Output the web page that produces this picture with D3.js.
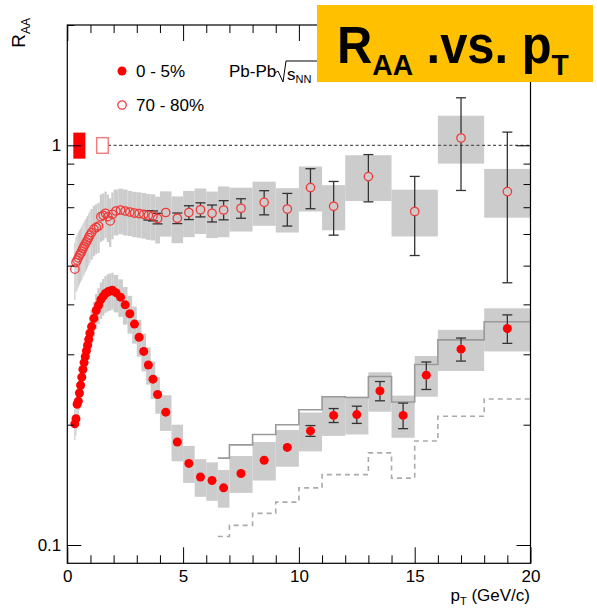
<!DOCTYPE html>
<html>
<head>
<meta charset="utf-8">
<script src="https://cdn.jsdelivr.net/npm/d3@7"></script>
<style>
body { margin: 0; background: #fff; }
svg { display: block; font-family: "Liberation Sans", Arial, Helvetica, sans-serif; }
</style>
</head>
<body>
<svg width="597" height="612"></svg>
<script>
// pT bin edges (GeV/c)
var edges05 = [0.3,0.35,0.4,0.45,0.5,0.55,0.6,0.65,0.7,0.75,0.8,0.85,0.9,0.95,1.0,
  1.1,1.2,1.3,1.4,1.5,1.6,1.7,1.8,1.9,2.0,2.2,2.4,2.6,2.8,3.0,3.2,3.4,3.6,3.8,4.0,
  4.5,5.0,5.5,6.0,6.5,7,8,9,10,11,12,13,14,15,16,18,20];
var edges7080 = [0.3,0.35,0.4,0.45,0.5,0.55,0.6,0.65,0.7,0.75,0.8,0.85,0.9,0.95,1.0,
  1.1,1.2,1.3,1.4,1.5,1.6,1.7,1.8,1.9,2.0,2.2,2.4,2.6,2.8,3.0,3.2,3.4,3.6,3.8,4.0,
  4.5,5.0,5.5,6.0,6.5,7,8,9,10,11,12,14,16,18,20];

// 0-5% : R_AA, stat error, syst error
var raa05 = [0.201,0.207,0.225,0.229,0.240,0.251,0.263,0.275,0.286,0.296,0.306,0.316,0.327,0.339,
  0.352,0.369,0.386,0.398,0.411,0.419,0.426,0.430,0.432,0.434,
  0.428,0.417,0.399,0.379,0.357,0.331,0.305,0.282,0.260,0.238,
  0.215,0.181,0.160,0.148,0.145,0.139,
  0.151,0.163,0.1755,0.193,0.211,
  0.212,0.243,0.211,0.266,
  0.309,0.348];
var stat05 = [0.001,0.001,0.001,0.001,0.001,0.001,0.001,0.001,0.001,0.001,0.001,0.001,0.001,0.001,
  0.001,0.001,0.001,0.001,0.001,0.001,0.001,0.001,0.001,0.001,
  0.001,0.001,0.001,0.001,0.001,0.001,0.001,0.001,0.001,0.001,
  0.001,0.001,0.001,0.001,0.001,0.0015,
  0.0015,0.002,0.0028,0.006,0.0085,
  0.0105,0.0135,0.0155,0.021,
  0.0205,0.0285];
var sys05 = [0.018,0.019,0.02,0.021,0.022,0.023,0.025,0.026,0.027,0.028,0.029,0.03,0.031,0.033,
  0.035,0.037,0.039,0.041,0.043,0.044,0.045,0.046,0.046,0.046,
  0.046,0.045,0.043,0.041,0.038,0.035,0.033,0.03,0.028,0.025,
  0.022,0.019,0.017,0.016,0.016,0.015,
  0.016,0.018,0.0185,0.0215,0.0235,
  0.023,0.0275,0.0255,0.031,
  0.0365,0.043];

// 70-80%
var raa7080 = [0.490,0.509,0.516,0.523,0.531,0.537,0.544,0.552,0.559,0.566,0.573,0.580,0.588,0.596,
  0.605,0.617,0.623,0.628,0.663,0.668,0.676,0.663,0.647,0.672,
  0.685,0.689,0.685,0.681,0.677,0.675,0.672,0.668,0.666,0.656,
  0.679,0.657,0.679,0.690,0.676,0.689,
  0.696,0.720,0.693,0.784,0.704,
  0.835,0.683,
  1.043,0.766];
var stat7080 = [0.004,0.004,0.004,0.004,0.004,0.004,0.004,0.004,0.004,0.004,0.004,0.004,0.004,0.004,
  0.005,0.005,0.005,0.005,0.005,0.006,0.006,0.006,0.006,0.007,
  0.008,0.009,0.01,0.011,0.012,0.014,0.016,0.018,0.019,0.02,
  0.015,0.02,0.027,0.028,0.033,0.038,
  0.039,0.05,0.065,0.09,0.108,
  0.113,0.153,
  0.272,0.313];
var sys7080 = [0.08,0.08,0.082,0.082,0.083,0.083,0.084,0.084,0.085,0.085,0.086,0.086,0.087,0.088,
  0.088,0.089,0.089,0.09,0.09,0.09,0.09,0.09,0.09,0.09,
  0.09,0.09,0.09,0.088,0.088,0.088,0.088,0.088,0.088,0.088,
  0.088,0.088,0.09,0.09,0.09,0.1,
  0.0875,0.091,0.088,0.101,0.091,
  0.1095,0.0915,
  0.143,0.107];

// grey step histograms over/under the 0-5% points
var stepEdges = [6.5,7,8,9,10,11,12,13,14,15,16,18,20];
var stepSolid = [0.165,0.178,0.189,0.200,0.218,0.235,0.234,0.264,0.228,0.283,0.326,0.362];
var stepDashed = [0.105,0.112,0.120,0.128,0.139,0.150,0.150,0.170,0.147,0.182,0.210,0.232];

var xMajor = [0, 5, 10, 15, 20];
var xMinor = [1,2,3,4,6,7,8,9,11,12,13,14,16,17,18,19];
var yMajor = [0.1, 1];
var yMinor = [0.2,0.3,0.4,0.5,0.6,0.7,0.8,0.9,2];

var svg = d3.select('svg');
var x = d3.scaleLinear().domain([0, 20]).range([67.3, 530.5]);
var y = d3.scaleLog().domain([0.09, 2]).range([563.3, 25]);

function makePoints(edges, vals, stat, sys) {
  return vals.map(function(v, i) {
    return { lo: edges[i], hi: edges[i + 1], pt: (edges[i] + edges[i + 1]) / 2, v: v, st: stat[i], sy: sys[i] };
  });
}
var pts05 = makePoints(edges05, raa05, stat05, sys05);
var pts7080 = makePoints(edges7080, raa7080, stat7080, sys7080);

// syst boxes
var boxes = svg.append('g');
[pts7080, pts05].forEach(function(pts) {
  boxes.selectAll(null)
    .data(pts)
    .enter()
    .append('rect')
    .attr('x', function(d) { return x(d.lo); })
    .attr('width', function(d) { return x(d.hi) - x(d.lo); })
    .attr('y', function(d) { return y(d.v + d.sy); })
    .attr('height', function(d) { return y(d.v - d.sy) - y(d.v + d.sy); })
    .style('fill', '#cccccc');
});

// step lines
function stepPoints(vals) {
  var p = vals.map(function(v, i) { return [stepEdges[i], v]; });
  p.push([stepEdges[stepEdges.length - 1], vals[vals.length - 1]]);
  return p;
}
var stepLine = d3.line()
  .x(function(d) { return x(d[0]); })
  .y(function(d) { return y(d[1]); })
  .curve(d3.curveStepAfter);

svg.append('path')
  .attr('d', stepLine(stepPoints(stepSolid)))
  .style('fill', 'none')
  .style('stroke', '#9a9a9a')
  .style('stroke-width', 1.6);
svg.append('path')
  .attr('d', stepLine(stepPoints(stepDashed)))
  .style('fill', 'none')
  .style('stroke', '#aaaaaa')
  .style('stroke-width', 1.6)
  .style('stroke-dasharray', '5,4');

// unity line
svg.append('line')
  .attr('x1', x(1.76)).attr('x2', x(20))
  .attr('y1', y(1)).attr('y2', y(1))
  .style('stroke', '#555')
  .style('stroke-width', 1.2)
  .style('stroke-dasharray', '3,2.5');

// normalisation boxes
svg.append('rect')
  .attr('x', x(0.26)).attr('width', x(0.78) - x(0.26))
  .attr('y', y(1.076)).attr('height', y(0.926) - y(1.076))
  .style('fill', '#ff0000');
svg.append('rect')
  .attr('x', x(1.27)).attr('width', x(1.77) - x(1.27))
  .attr('y', y(1.045)).attr('height', y(0.955) - y(1.045))
  .style('fill', '#fff')
  .style('stroke', '#f08080')
  .style('stroke-width', 1.5);

// stat error bars
var r = 4.5;
var bars = svg.append('g').style('stroke', '#333').style('stroke-width', 1.3);
[pts7080, pts05].forEach(function(pts) {
  pts.forEach(function(d) {
    var cy = y(d.v), top = y(d.v + d.st), bot = y(d.v - d.st), cx = x(d.pt);
    if (cy - top > r) {
      bars.append('line').attr('x1', cx).attr('x2', cx).attr('y1', top).attr('y2', cy - r);
      bars.append('line').attr('x1', cx - 5).attr('x2', cx + 5).attr('y1', top).attr('y2', top);
    }
    if (bot - cy > r) {
      bars.append('line').attr('x1', cx).attr('x2', cx).attr('y1', bot).attr('y2', cy + r);
      bars.append('line').attr('x1', cx - 5).attr('x2', cx + 5).attr('y1', bot).attr('y2', bot);
    }
  });
});

// markers
svg.append('g').selectAll('circle')
  .data(pts7080)
  .enter()
  .append('circle')
  .attr('cx', function(d) { return x(d.pt); })
  .attr('cy', function(d) { return y(d.v); })
  .attr('r', 4.2)
  .style('fill', 'none')
  .style('stroke', '#f03a3a')
  .style('stroke-width', 1.3);

svg.append('g').selectAll('circle')
  .data(pts05)
  .enter()
  .append('circle')
  .attr('cx', function(d) { return x(d.pt); })
  .attr('cy', function(d) { return y(d.v); })
  .attr('r', r)
  .style('fill', '#ff0000');

// axes (ROOT style ticks inside the frame)
function clean(g) { g.select('.domain').remove(); g.selectAll('line').style('stroke', '#000'); }

svg.append('g').attr('transform', 'translate(0,563.3)')
  .call(d3.axisBottom(x).tickValues(xMajor).tickSize(-16).tickPadding(7).tickFormat(d3.format('d')))
  .call(clean)
  .selectAll('text').style('font-size', '17px').style('fill', '#000').style('font-family', 'Liberation Sans, Arial, sans-serif');
svg.append('g').attr('transform', 'translate(0,563.3)')
  .call(d3.axisBottom(x).tickValues(xMinor).tickSize(-8).tickFormat(''))
  .call(clean);
svg.append('g').attr('transform', 'translate(0,25)')
  .call(d3.axisTop(x).tickValues(xMajor).tickSize(-16).tickFormat(''))
  .call(clean);
svg.append('g').attr('transform', 'translate(0,25)')
  .call(d3.axisTop(x).tickValues(xMinor).tickSize(-8).tickFormat(''))
  .call(clean);

svg.append('g').attr('transform', 'translate(67.3,0)')
  .call(d3.axisLeft(y).tickValues(yMajor).tickSize(-14).tickPadding(6).tickFormat(function(d) { return d === 1 ? '1' : '0.1'; }))
  .call(clean)
  .selectAll('text').style('font-size', '17px').style('fill', '#000').style('font-family', 'Liberation Sans, Arial, sans-serif');
svg.append('g').attr('transform', 'translate(67.3,0)')
  .call(d3.axisLeft(y).tickValues(yMinor).tickSize(-7).tickFormat(''))
  .call(clean);
svg.append('g').attr('transform', 'translate(530.5,0)')
  .call(d3.axisRight(y).tickValues(yMajor).tickSize(-14).tickFormat(''))
  .call(clean);
svg.append('g').attr('transform', 'translate(530.5,0)')
  .call(d3.axisRight(y).tickValues(yMinor).tickSize(-7).tickFormat(''))
  .call(clean);

// frame
svg.append('rect')
  .attr('x', 67.3).attr('y', 25)
  .attr('width', 530.5 - 67.3).attr('height', 563.3 - 25)
  .style('fill', 'none')
  .style('stroke', '#000')
  .style('stroke-width', 1.2);

// axis titles
var xt = svg.append('text').attr('x', 530).attr('y', 601).attr('text-anchor', 'end').style('font-size', '17px');
xt.append('tspan').text('p');
xt.append('tspan').attr('dy', 4).style('font-size', '11px').text('T');
xt.append('tspan').attr('dy', -4).text(' (GeV/c)');

var yt = svg.append('text').attr('transform', 'translate(25,18) rotate(-90)').attr('text-anchor', 'end').style('font-size', '19px');
yt.append('tspan').text('R');
yt.append('tspan').attr('dy', 5).style('font-size', '12px').text('AA');

// legend
svg.append('circle').attr('cx', 122).attr('cy', 71).attr('r', r).style('fill', '#ff0000');
svg.append('circle').attr('cx', 122).attr('cy', 105).attr('r', 4.2)
  .style('fill', 'none').style('stroke', '#f03a3a').style('stroke-width', 1.3);
svg.append('text').attr('x', 136).attr('y', 77).style('font-size', '17px').text('0 - 5%');
svg.append('text').attr('x', 136).attr('y', 111).style('font-size', '17px').text('70 - 80%');

svg.append('text').attr('x', 229).attr('y', 77).style('font-size', '17px').text('Pb-Pb');
svg.append('path')
  .attr('d', 'M275,73 L278,71 L283,82 L286,61 L330,61')
  .style('fill', 'none').style('stroke', '#000').style('stroke-width', 1);
var sq = svg.append('text').attr('x', 287).attr('y', 80).style('font-size', '17px');
sq.append('tspan').text('s');
sq.append('tspan').attr('dy', 3).style('font-size', '11px').text('NN');

// title box
svg.append('rect')
  .attr('x', 317).attr('y', 5).attr('width', 276).attr('height', 77)
  .style('fill', '#ffc000');
var tt = svg.append('text')
  .attr('transform', 'translate(337,63) scale(0.94,1)')
  .style('font-weight', 'bold')
  .style('font-size', '52px')
  .style('fill', '#000');
tt.append('tspan').text('R');
tt.append('tspan').attr('dy', 12).style('font-size', '30px').text('AA');
tt.append('tspan').attr('dy', -12).text(' .vs. p');
tt.append('tspan').attr('dy', 12).style('font-size', '30px').text('T');
</script>
</body>
</html>
